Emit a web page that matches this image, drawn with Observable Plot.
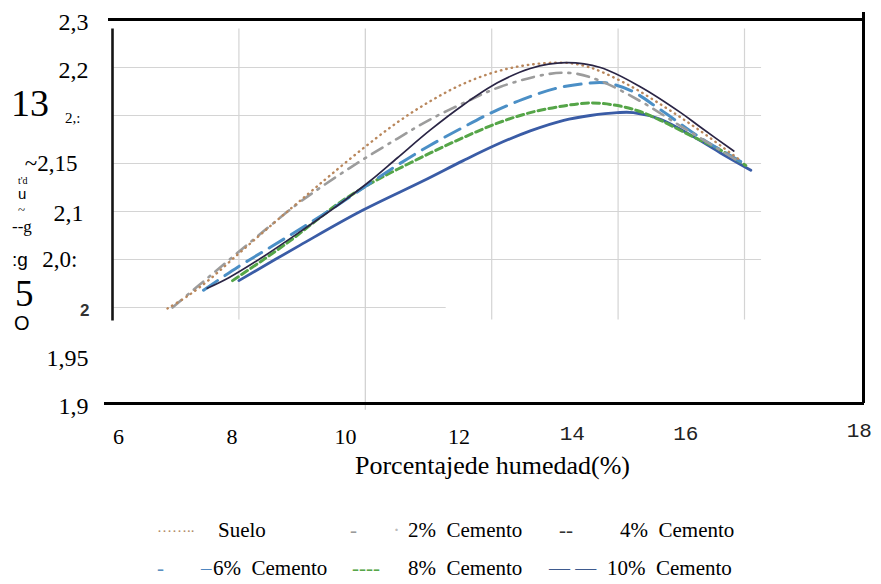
<!DOCTYPE html>
<html>
<head>
<meta charset="utf-8">
<script src="https://cdn.jsdelivr.net/npm/d3@7"></script>
<script src="https://cdn.jsdelivr.net/npm/@observablehq/plot@0.6"></script>
<style>
  body { margin: 0; background: #fff; }
  #wrap { position: relative; width: 881px; height: 584px; overflow: hidden; font-family: "Liberation Serif", "Times New Roman", Times, serif; color: #000; }
  #wrap svg { position: absolute; left: 0; top: 0; }
  .t { position: absolute; white-space: pre; line-height: 1; }
</style>
</head>
<body>
<div id="wrap"></div>
<script>
const SERIF = '"Liberation Serif", "Times New Roman", Times, serif';
const MONO = '"Liberation Mono", "Courier New", Courier, monospace';
const SANS = '"Liberation Sans", Arial, sans-serif';

// ---- outer axis (printed) ----
const yTicks = [2.3, 2.25, 2.2, 2.15, 2.1, 2.05, 2, 1.95, 1.9];
const yTickLabels = ["2,3", "2,2", "2,:", "~2,15", "2,1", "2,0:", "2", "1,95", "1,9"];
const xTicks = [6, 8, 10, 12, 14, 16, 18];
const xTickLabels = ["6", "8", "10", "12", "14", "16", "18"];
const xTitle = "Porcentajede humedad(%)";

// ---- inner (scanned) chart grid ----
const innerYGrid = [2.0, 2.05, 2.1, 2.15, 2.2, 2.25];
const innerXGrid = [8, 10, 12, 14, 16];

// ---- series: humedad (%) and densidad ----
const sueloX = [6.87, 7.19, 7.55, 7.91, 8.29, 8.66, 9.09, 9.45, 9.97, 10.51, 11.03, 11.55, 12.09, 12.61, 13.14, 13.45, 13.72, 14.24, 14.78, 15.30, 15.94];
const sueloY = [1.999, 2.012, 2.030, 2.051, 2.073, 2.094, 2.118, 2.138, 2.166, 2.193, 2.215, 2.233, 2.246, 2.253, 2.255, 2.252, 2.246, 2.229, 2.207, 2.184, 2.153];

const cem2X = [6.95, 7.60, 8.29, 8.97, 9.77, 10.51, 11.03, 11.62, 12.14, 12.88, 13.29, 13.72, 14.35, 14.99, 15.94];
const cem2Y = [2.000, 2.036, 2.074, 2.110, 2.146, 2.176, 2.196, 2.215, 2.230, 2.243, 2.244, 2.236, 2.215, 2.189, 2.151];

const cem4X = [7.50, 7.84, 8.34, 8.97, 9.66, 10.08, 10.51, 11.03, 11.55, 12.09, 12.61, 13.17, 13.72, 14.35, 14.99, 15.30, 15.83];
const cem4Y = [2.020, 2.031, 2.051, 2.079, 2.111, 2.132, 2.156, 2.185, 2.211, 2.234, 2.249, 2.255, 2.250, 2.230, 2.203, 2.188, 2.163];

const cem6X = [7.44, 7.98, 8.53, 9.00, 9.50, 10.00, 10.50, 11.00, 11.50, 12.00, 12.50, 13.00, 13.45, 13.80, 14.20, 14.67, 15.30, 15.94];
const cem6Y = [2.018, 2.042, 2.064, 2.083, 2.104, 2.126, 2.148, 2.168, 2.186, 2.203, 2.217, 2.228, 2.233, 2.234, 2.226, 2.206, 2.177, 2.152];

const cem8X = [7.90, 8.37, 8.82, 9.21, 9.61, 10.13, 10.51, 11.03, 11.55, 12.09, 12.61, 13.14, 13.56, 13.93, 14.31, 14.67, 15.15, 15.62, 16.02];
const cem8Y = [2.028, 2.049, 2.070, 2.090, 2.110, 2.131, 2.144, 2.161, 2.177, 2.192, 2.203, 2.210, 2.213, 2.211, 2.205, 2.195, 2.179, 2.164, 2.148];

const cem10X = [8.00, 8.97, 9.92, 10.92, 11.55, 12.09, 12.61, 13.14, 13.56, 13.99, 14.24, 14.67, 15.19, 15.62, 16.10];
const cem10Y = [2.028, 2.065, 2.100, 2.132, 2.153, 2.170, 2.184, 2.195, 2.200, 2.203, 2.203, 2.196, 2.178, 2.161, 2.143];

const legendRow1 = [
  {txt: "……..", color: "#b08a66", x: 157, size: 15},
  {txt: "Suelo", color: "#000", x: 218},
  {txt: "-", color: "#9a9a9a", x: 350},
  {txt: "·", color: "#bbbbbb", x: 393},
  {txt: "2%  Cemento", color: "#000", x: 408},
  {txt: "--", color: "#333", x: 559},
  {txt: "4%  Cemento", color: "#000", x: 620}
];
const legendRow2 = [
  {txt: "-", color: "#5b8fc0", x: 157},
  {txt: "–", color: "#4f86c0", x: 201},
  {txt: "6%  Cemento", color: "#000", x: 213},
  {txt: "----", color: "#58a64a", x: 352},
  {txt: "8%  Cemento", color: "#000", x: 408},
  {txt: "— —", color: "#3e5a8e", x: 549},
  {txt: "10%  Cemento", color: "#000", x: 607}
];

const toRows = (xs, ys) => xs.map((x, i) => ({x, y: ys[i]}));
const suelo = toRows(sueloX, sueloY);
const cem2 = toRows(cem2X, cem2Y);
const cem4 = toRows(cem4X, cem4Y);
const cem6 = toRows(cem6X, cem6Y);
const cem8 = toRows(cem8X, cem8Y);
const cem10 = toRows(cem10X, cem10Y);

const W = 881, H = 490;
const yScale = {domain: [1.9, 2.3]};
const mt = 19, mb = H - 403;

// inner scanned chart
const inner = Plot.plot({
  width: W, height: H,
  marginTop: mt, marginBottom: mb, marginLeft: 112, marginRight: W - 744,
  x: {domain: [6, 16], axis: null},
  y: {...yScale, axis: null},
  style: {background: "transparent", overflow: "visible"},
  marks: [
    Plot.ruleY(innerYGrid.filter(v => v > 2.02), {y: d => d, x1: 6, x2: 16.27, stroke: "#d4d4d4", strokeWidth: 1.2}),
    Plot.ruleY(innerYGrid.filter(v => v < 2.02), {y: d => d, x1: 6, x2: 11.28, stroke: "#d4d4d4", strokeWidth: 1.2}),
    Plot.ruleX(innerXGrid.filter(v => v !== 10), {x: d => d, y1: 1.987, y2: 2.29, stroke: "#d4d4d4", strokeWidth: 1.2}),
    Plot.ruleX(innerXGrid.filter(v => v === 10), {x: d => d, y1: 1.893, y2: 2.29, stroke: "#cfcfcf", strokeWidth: 1.2}),
    Plot.ruleX([6], {x: d => d, y1: 1.986, y2: 2.29, stroke: "#151515", strokeWidth: 2.6}),
    Plot.line(cem10, {x: "x", y: "y", curve: "catmull-rom", stroke: "#3a5ca6", strokeWidth: 2.8}),
    Plot.line(cem8, {x: "x", y: "y", curve: "catmull-rom", stroke: "#55a548", strokeWidth: 3, strokeDasharray: "7,4"}),
    Plot.line(cem6, {x: "x", y: "y", curve: "catmull-rom", stroke: "#4b8fc6", strokeWidth: 3, strokeDasharray: "17,9"}),
    Plot.line(cem2, {x: "x", y: "y", curve: "catmull-rom", stroke: "#9c9c9c", strokeWidth: 2.6, strokeDasharray: "12,7,2,7"}),
    Plot.line(suelo, {x: "x", y: "y", curve: "catmull-rom", stroke: "#b9875c", strokeWidth: 2.4, strokeDasharray: "0.5,5", strokeLinecap: "round"}),
    Plot.line(cem4, {x: "x", y: "y", curve: "catmull-rom", stroke: "#2a2545", strokeWidth: 1.7})
  ]
});

// outer printed frame and axes
const xDom = [5.753, 19.15];
const serifIdx = [0, 1, 2, 3];
const monoIdx = [4, 5, 6];
const yRows = yTickLabels.map((t, i) => ({t, y: yTicks[i]}));
const pick = (labels) => yRows.filter(d => labels.includes(d.t));
const outer = Plot.plot({
  width: W, height: H,
  marginTop: mt, marginBottom: mb, marginLeft: 104, marginRight: W - 864,
  x: {domain: xDom, axis: null},
  y: {...yScale, axis: null},
  style: {background: "transparent", overflow: "visible"},
  marks: [
    Plot.ruleY([yScale.domain[1]], {y: d => d, stroke: "#000", strokeWidth: 3, insetLeft: 4}),
    Plot.ruleY([yScale.domain[0]], {y: d => d, stroke: "#000", strokeWidth: 3}),
    Plot.ruleX([xDom[1]], {x: d => d, stroke: "#000", strokeWidth: 3, insetTop: -7, dx: -1}),
    // y tick labels
    Plot.text(pick(["2,3", "2,2", "1,95", "1,9"]),
      {y: "y", text: "t", frameAnchor: "left", textAnchor: "end", dx: -16, dy: 3, fontSize: 24, fill: "#000", fontFamily: SERIF}),
    Plot.text(pick(["2,1"]),
      {y: "y", text: "t", frameAnchor: "left", textAnchor: "end", dx: -21, dy: 2, fontSize: 24, fill: "#000", fontFamily: SERIF}),
    Plot.text(pick(["~2,15", "2,0:"]),
      {y: "y", text: "t", frameAnchor: "left", textAnchor: "end", dx: -27, dy: 0, fontSize: 23, fill: "#000", fontFamily: SERIF}),
    Plot.text(pick(["2,:"]),
      {y: "y", text: "t", frameAnchor: "left", textAnchor: "end", dx: -24, dy: 3, fontSize: 15, fill: "#000", fontFamily: SERIF}),
    Plot.text(pick(["2"]),
      {y: "y", text: "t", frameAnchor: "left", textAnchor: "end", dx: -15, dy: 3, fontSize: 17, fontWeight: "bold", fill: "#333", fontFamily: SANS}),
    // x tick labels
    Plot.text(serifIdx.map(i => ({x: xTicks[i], t: xTickLabels[i]})),
      {x: "x", text: "t", frameAnchor: "bottom", dy: 40, fontSize: 22, fill: "#000", fontFamily: SERIF}),
    Plot.text(monoIdx.slice(0, 2).map(i => ({x: xTicks[i], t: xTickLabels[i]})),
      {x: "x", text: "t", frameAnchor: "bottom", dy: 36, fontSize: 21, fill: "#222", fontFamily: MONO}),
    Plot.text(monoIdx.slice(2).map(i => ({x: xTicks[i], t: xTickLabels[i]})),
      {x: "x", text: "t", frameAnchor: "bottom", dy: 33, dx: 60, fontSize: 21, fill: "#222", fontFamily: MONO}),
    // x title
    Plot.text([xTitle], {frameAnchor: "bottom", dy: 70, dx: 8, fontSize: 26, fill: "#000", fontFamily: SERIF})
  ]
});

const wrap = document.getElementById("wrap");
wrap.appendChild(inner);
wrap.appendChild(outer);

// garbled (OCR) vertical axis title fragments
const frags = [
  {txt: "13", x: 11, y: 84, size: 38},
  {txt: "t'd", x: 18, y: 176, size: 10},
  {txt: "u", x: 18, y: 186, size: 15, fam: SANS},
  {txt: "~", x: 18, y: 203, size: 13},
  {txt: "--g", x: 12, y: 218, size: 17},
  {txt: ":g", x: 12, y: 250, size: 19, fam: SANS},
  {txt: "5", x: 15, y: 275, size: 37},
  {txt: "O", x: 14, y: 313, size: 20, fam: SANS}
];
for (const f of frags) {
  const s = document.createElement("div");
  s.className = "t";
  s.textContent = f.txt;
  s.style.left = f.x + "px";
  s.style.top = f.y + "px";
  s.style.fontSize = f.size + "px";
  s.style.fontFamily = f.fam || SERIF;
  wrap.appendChild(s);
}

// legend (below the SVG)
function addRow(items, top) {
  for (const it of items) {
    const s = document.createElement("div");
    s.className = "t";
    s.textContent = it.txt;
    s.style.left = it.x + "px";
    s.style.top = top + "px";
    s.style.fontSize = (it.size || 21) + "px";
    s.style.fontFamily = SERIF;
    s.style.color = it.color;
    wrap.appendChild(s);
  }
}
addRow(legendRow1, 520);
addRow(legendRow2, 558);
</script>
</body>
</html>
